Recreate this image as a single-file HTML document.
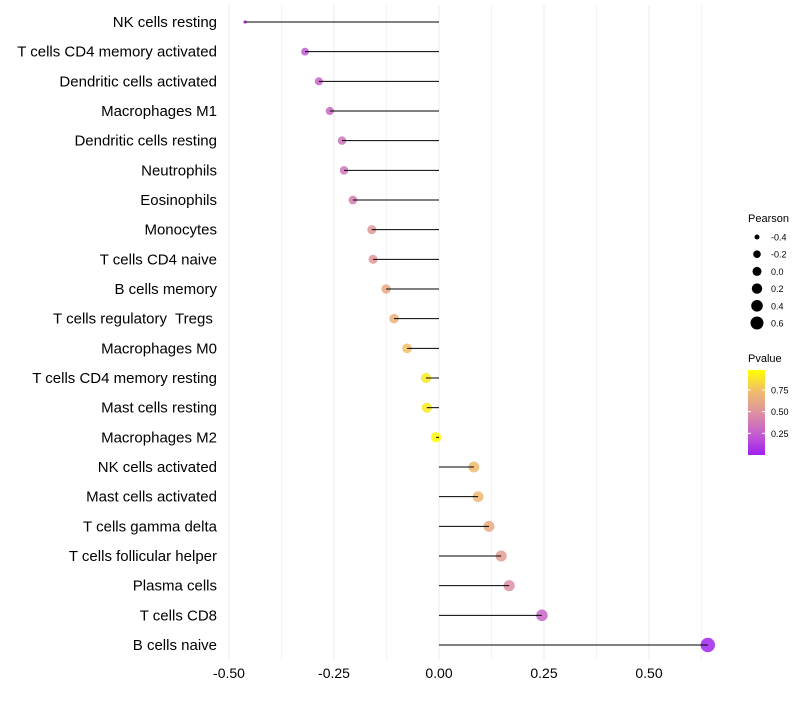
<!DOCTYPE html>
<html><head><meta charset="utf-8"><style>
body{margin:0;background:#fff;font-family:"Liberation Sans",sans-serif;}
text{white-space:pre;}
</style></head><body>
<svg id="c" width="800" height="700"></svg>
<script>
const categories=["NK cells resting","T cells CD4 memory activated","Dendritic cells activated","Macrophages M1","Dendritic cells resting","Neutrophils","Eosinophils","Monocytes","T cells CD4 naive","B cells memory","T cells regulatory  Tregs ","Macrophages M0","T cells CD4 memory resting","Mast cells resting","Macrophages M2","NK cells activated","Mast cells activated","T cells gamma delta","T cells follicular helper","Plasma cells","T cells CD8","B cells naive"];
const pearson=[-0.462,-0.319,-0.286,-0.260,-0.231,-0.226,-0.205,-0.160,-0.157,-0.126,-0.107,-0.076,-0.031,-0.029,-0.007,0.083,0.093,0.119,0.148,0.167,0.245,0.640];
const pvalue=[0.03,0.22,0.27,0.3,0.35,0.35,0.4,0.52,0.52,0.62,0.66,0.75,0.9,0.9,0.97,0.72,0.7,0.63,0.55,0.48,0.28,0.01];
const xTicks=[-0.5,-0.25,0,0.25,0.5];
const xTickLabels=["-0.50","-0.25","0.00","0.25","0.50"];
const sizeLegend=[-0.4,-0.2,0.0,0.2,0.4,0.6];
const pTicks=[0.25,0.5,0.75];
const NS="http://www.w3.org/2000/svg";
const svg=document.getElementById('c');
function el(t,a,p){const e=document.createElementNS(NS,t);for(const k in a)e.setAttribute(k,a[k]);(p||svg).appendChild(e);return e;}
const x=v=>439+v*420;
const y=i=>22+i*(645-22)/21;
const rAnchV=[-0.46,-0.32,0,0.25,0.64], rAnchR=[1.6,3.9,5.2,5.8,7.2];
function rad(v){if(v<=rAnchV[0])return rAnchR[0];for(let i=1;i<rAnchV.length;i++){if(v<=rAnchV[i]){const t=(v-rAnchV[i-1])/(rAnchV[i]-rAnchV[i-1]);return rAnchR[i-1]+t*(rAnchR[i]-rAnchR[i-1]);}}return rAnchR[rAnchR.length-1];}
const stops=[[0,[160,32,240]],[0.25,[196,95,207]],[0.5,[222,145,160]],[0.75,[240,189,106]],[1,[255,255,0]]];
function col(p){p=Math.max(0,Math.min(1,p/0.98));for(let i=1;i<stops.length;i++){if(p<=stops[i][0]){const a=stops[i-1],b=stops[i],t=(p-a[0])/(b[0]-a[0]);return 'rgb('+a[1].map((c,j)=>Math.round(c+(b[1][j]-c)*t)).join(',')+')';}}return 'rgb(255,255,0)';}
for(let v=-0.5;v<=0.625;v+=0.125){const g=el('line',{x1:x(v),x2:x(v),y1:5,y2:660,stroke:'#ebebeb','stroke-width':Math.abs((v*4)%1)<1e-6?1:0.6});
}
xTicks.forEach((v,i)=>{const t=el('text',{x:x(v),y:678,'text-anchor':'middle','font-size':14,fill:'#000'});t.textContent=xTickLabels[i];
});
categories.forEach((c,i)=>{
const t=el('text',{x:217,y:y(i)+5,'text-anchor':'end','font-size':15,fill:'#000'});t.textContent=c;

const d=el('circle',{cx:x(pearson[i]),cy:y(i),r:rad(pearson[i]),fill:col(pvalue[i]),'fill-opacity':0.85});

const l=el('line',{x1:x(0),x2:x(pearson[i]),y1:y(i),y2:y(i),stroke:'#000','stroke-width':1});

});
let t=el('text',{x:748,y:222,'font-size':11});t.textContent='Pearson';

const legR=[2.5,3.8,4.5,5.2,5.8,6.5];
sizeLegend.forEach((v,i)=>{const cy=237+i*17.2;
const c=el('circle',{cx:757,cy:cy,r:legR[i],fill:'#000'});
const tt=el('text',{x:771,y:cy+3.5,'font-size':9});tt.textContent=v.toFixed(1);});
t=el('text',{x:748,y:362,'font-size':11});t.textContent='Pvalue';

const defs=el('defs',{});const lg=el('linearGradient',{id:'g',x1:0,y1:1,x2:0,y2:0},defs);
stops.forEach(s=>el('stop',{offset:s[0],'stop-color':'rgb('+s[1].join(',')+')'},lg));
const bar=el('rect',{x:748,y:370,width:17,height:85,fill:'url(#g)'});
const py=p=>455-p/0.98*85;
pTicks.forEach(p=>{el('line',{x1:748,x2:751,y1:py(p),y2:py(p),stroke:'#fff'});el('line',{x1:762,x2:765,y1:py(p),y2:py(p),stroke:'#fff'});
const tt=el('text',{x:771,y:py(p)+3.5,'font-size':9});tt.textContent=p.toFixed(2);});
</script>
</body></html>
